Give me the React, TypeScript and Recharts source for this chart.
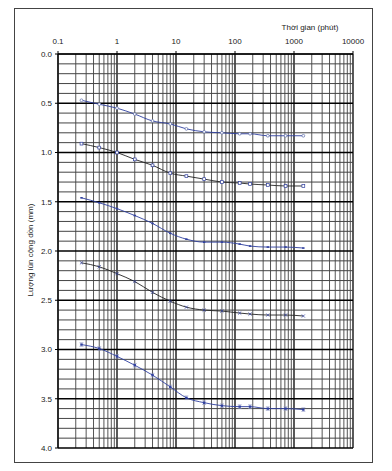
import React from "react";
import { LineChart, Line, XAxis, YAxis, ReferenceLine } from "recharts";

// time (minutes) of each reading
const times = [0.25, 0.5, 1, 2, 4, 8, 15, 30, 60, 120, 180, 360, 720, 1440];

// cumulative settlement (mm) for each load step
const s1 = [0.47, 0.51, 0.55, 0.61, 0.68, 0.71, 0.76, 0.79, 0.8, 0.81, 0.81, 0.83, 0.83, 0.83];
const s2 = [0.91, 0.95, 1.0, 1.07, 1.13, 1.21, 1.24, 1.27, 1.3, 1.31, 1.32, 1.33, 1.34, 1.34];
const s3 = [1.46, 1.51, 1.57, 1.64, 1.72, 1.82, 1.88, 1.91, 1.91, 1.93, 1.95, 1.96, 1.96, 1.97];
const s4 = [2.12, 2.16, 2.23, 2.31, 2.42, 2.51, 2.57, 2.6, 2.61, 2.63, 2.64, 2.65, 2.65, 2.66];
const s5 = [2.95, 2.99, 3.07, 3.16, 3.26, 3.38, 3.49, 3.54, 3.57, 3.58, 3.58, 3.6, 3.6, 3.61];

const xTicks = [0.1, 1, 10, 100, 1000, 10000];
const yTicks = [0, 0.5, 1, 1.5, 2, 2.5, 3, 3.5, 4];

const data = times.map((t, i) => ({ t, s1: s1[i], s2: s2[i], s3: s3[i], s4: s4[i], s5: s5[i] }));

const xMinor: number[] = [];
[0.1, 1, 10, 100, 1000].forEach((d) => {
  for (let k = 2; k <= 9; k++) xMinor.push(Number((d * k).toPrecision(3)));
});
const yMinor: number[] = [];
for (let i = 0; i <= 40; i++) if (i % 5 !== 0) yMinor.push(i / 10);

const BLUE = "#2f3f9f";
const FONT = "'Liberation Sans', Arial, sans-serif";

const Circle = (p: any) => (
  <circle cx={p.cx} cy={p.cy} r={1.4} fill="#fff" stroke="#5a6aa8" strokeWidth={0.7} />
);
const Square = (p: any) => (
  <rect x={p.cx - 1.4} y={p.cy - 1.4} width={2.8} height={2.8} fill="#fff" stroke={BLUE} strokeWidth={0.7} />
);
const Dot = (p: any) => <rect x={p.cx - 1.2} y={p.cy - 0.8} width={2.4} height={1.6} fill={BLUE} />;
const Cross = (p: any) => (
  <path
    d={`M${p.cx - 1.6},${p.cy - 1.6}L${p.cx + 1.6},${p.cy + 1.6}M${p.cx - 1.6},${p.cy + 1.6}L${p.cx + 1.6},${p.cy - 1.6}`}
    stroke={BLUE}
    strokeWidth={0.7}
  />
);
const Bar = (p: any) => (
  <g>
    <rect x={p.cx - 1.2} y={p.cy - 1.2} width={2.4} height={2.4} fill={BLUE} />
    <path d={`M${p.cx - 2},${p.cy - 1.8}L${p.cx + 2},${p.cy - 1.8}M${p.cx - 2},${p.cy + 1.8}L${p.cx + 2},${p.cy + 1.8}`} stroke="#8890c0" strokeWidth={0.6} />
  </g>
);

export default function App() {
  return (
    <div style={{ position: "relative", width: 376, height: 456 }}>
      <div
        style={{
          position: "absolute",
          left: 6,
          top: 0,
          width: 357,
          height: 453,
          border: "1px solid #444",
        }}
      />
      <div style={{ position: "absolute", left: 0, top: 0 }}>
        <LineChart width={376} height={456} data={data} margin={{ top: 16, right: 31, bottom: 16, left: 0 }}>
          {xMinor.map((v) => (
            <ReferenceLine key={"x" + v} x={v} stroke="#555" strokeWidth={1} />
          ))}
          {xTicks.map((v) => (
            <ReferenceLine key={"X" + v} x={v} stroke="#000" strokeWidth={1.3} />
          ))}
          {yMinor.map((v) => (
            <ReferenceLine key={"y" + v} y={v} stroke="#444" strokeWidth={1} />
          ))}
          {yTicks.map((v) => (
            <ReferenceLine key={"Y" + v} y={v} stroke="#000" strokeWidth={1.5} />
          ))}
          <XAxis
            dataKey="t"
            type="number"
            scale="log"
            orientation="top"
            domain={[0.1, 10000]}
            allowDataOverflow
            ticks={xTicks}
            tickFormatter={(v) => String(v)}
            height={30}
            tickSize={3}
            tickMargin={7}
            axisLine={{ stroke: "#000" }}
            tickLine={{ stroke: "#000" }}
            tick={{ fontSize: 8, fill: "#222", fontFamily: FONT }}
          />
          <YAxis
            type="number"
            reversed
            domain={[0, 4]}
            ticks={yTicks}
            tickFormatter={(v) => v.toFixed(1)}
            width={50}
            tickSize={3}
            tickMargin={3}
            axisLine={{ stroke: "#000" }}
            tickLine={{ stroke: "#000" }}
            tick={{ fontSize: 8, fill: "#222", fontFamily: FONT }}
          />
          <Line type="monotone" dataKey="s1" stroke={BLUE} strokeWidth={0.9} dot={<Circle />} isAnimationActive={false} />
          <Line type="monotone" dataKey="s2" stroke="#222" strokeWidth={0.9} dot={<Square />} isAnimationActive={false} />
          <Line type="monotone" dataKey="s3" stroke={BLUE} strokeWidth={0.9} dot={<Dot />} isAnimationActive={false} />
          <Line type="monotone" dataKey="s4" stroke="#222" strokeWidth={0.9} dot={<Cross />} isAnimationActive={false} />
          <Line type="monotone" dataKey="s5" stroke={BLUE} strokeWidth={0.9} dot={<Bar />} isAnimationActive={false} />
          <text x={302} y={22} textAnchor="middle" fontSize={8} fill="#222" fontFamily={FONT}>
            Thời gian (phút)
          </text>
          <text
            x={25}
            y={242}
            transform="rotate(-90 25 242)"
            textAnchor="middle"
            fontSize={8}
            fill="#222"
            fontFamily={FONT}
          >
            Lượng lún cộng dồn (mm)
          </text>
        </LineChart>
      </div>
    </div>
  );
}
